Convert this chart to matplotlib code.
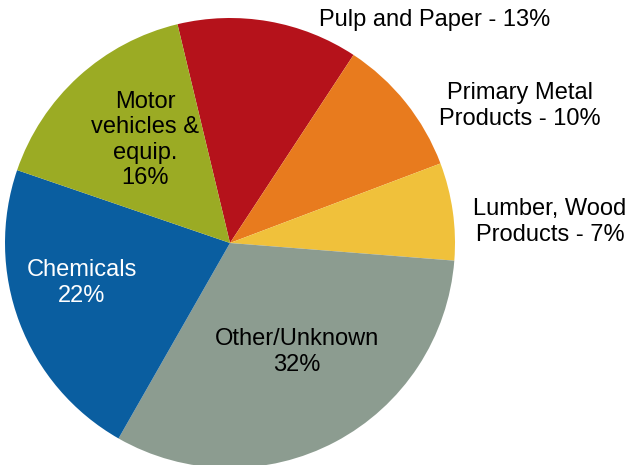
import matplotlib
matplotlib.use("Agg")
import matplotlib.pyplot as plt

plt.rcParams['font.family'] = ['Liberation Sans', 'DejaVu Sans']

# slices, clockwise from the top-left edge
sectors = ["Pulp and Paper", "Primary Metal Products", "Lumber, Wood Products",
           "Other/Unknown", "Chemicals", "Motor vehicles & equip."]
shares = [13, 10, 7, 32, 22, 16]
colors = ["#B5121B", "#E87B1E", "#F0C13B", "#8C9C90", "#0A5EA0", "#9BAB24"]

labels = ["Pulp and Paper - 13%", "Primary Metal\nProducts - 10%",
          "Lumber, Wood\nProducts - 7%", "Other/Unknown\n32%",
          "Chemicals\n22%", "Motor\nvehicles &\nequip.\n16%"]
label_pos = [(0.911, 0.991), (1.289, 0.609), (1.422, 0.093),
             (0.298, -0.484), (-0.658, -0.178), (-0.378, 0.458)]
label_col = ["black", "black", "black", "black", "white", "black"]

fig = plt.figure(figsize=(6.3, 4.65), dpi=100)
ax = fig.add_axes([5 / 630, -3 / 465, 450 / 630, 450 / 465])

ax.pie(shares, colors=colors, startangle=103.5, counterclock=False,
       radius=1, wedgeprops=dict(linewidth=0))

for txt, (x, y), c in zip(labels, label_pos, label_col):
    ax.text(x, y, txt, ha="center", va="center", fontsize=17, color=c,
            linespacing=1.2)

ax.set_xlim(-1, 1)
ax.set_ylim(-1, 1)
ax.set_aspect("equal")
ax.axis("off")

fig.savefig("out.png", dpi=100)
